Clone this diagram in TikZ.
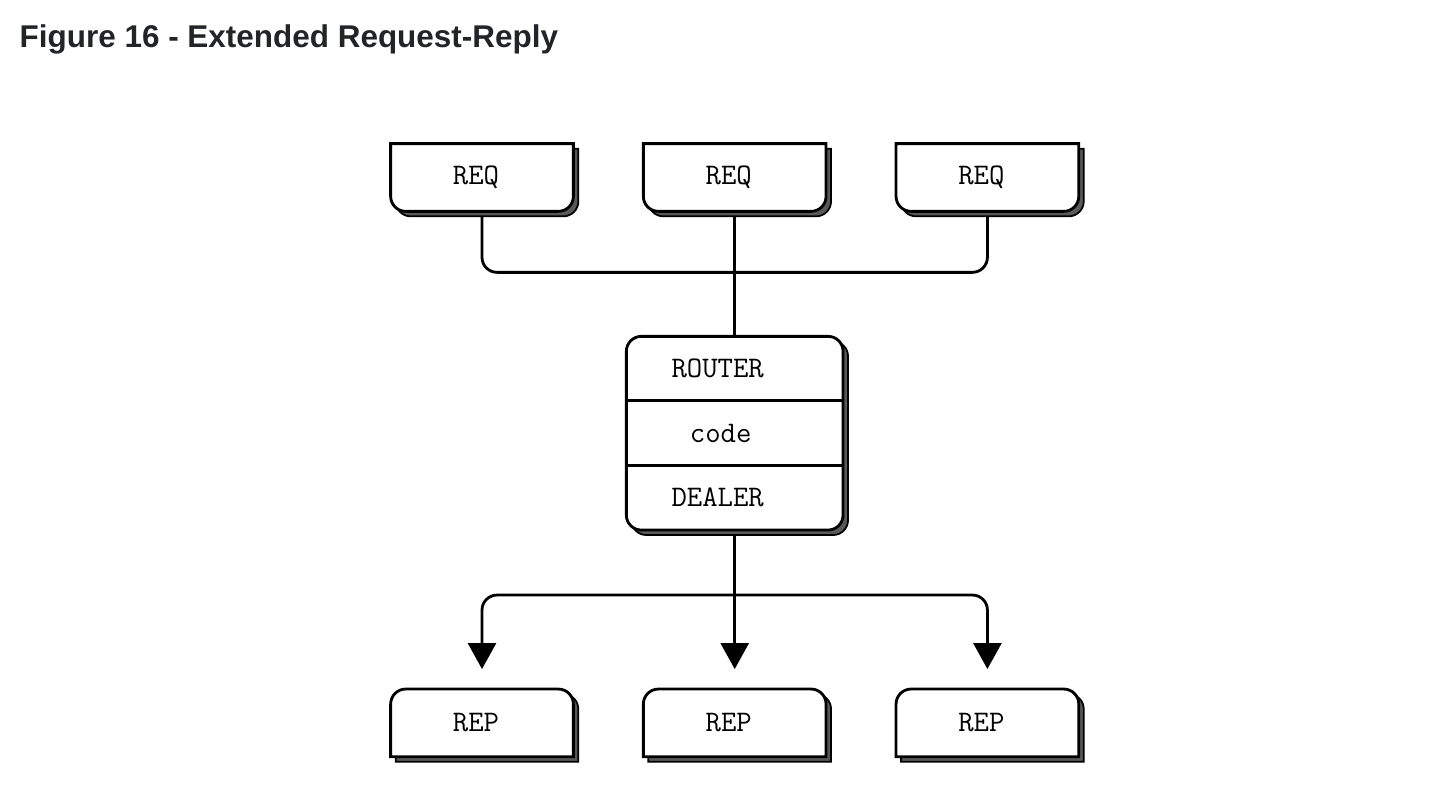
\documentclass[tikz,border=0pt]{standalone}
\usepackage{fontspec}
\setmainfont{Liberation Sans}
\usetikzlibrary{arrows.meta,positioning}
\definecolor{titologrigio}{HTML}{222428}
\tikzset{
node distance=1.4cm,
casella/.style={minimum width=3.64cm,minimum height=1.34cm,inner sep=0pt,font=\fontsize{17}{20}\ttfamily},
bordo/.style={draw=black,fill=white,line width=1.6pt},
ombra/.style={draw=black,fill=black!65,line width=1pt,transform canvas={shift={(0.1,-0.1)}}},
linea/.style={line width=1.6pt,rounded corners=0.3cm},
freccia/.style={linea,-{Triangle[width=0.56cm,length=0.52cm]},shorten >=0.4cm}}
% box with rounded bottom corners
\newcommand{\giu}[1]{(#1.north west) -- (#1.north east) -- ([yshift=0.3cm]#1.south east)
  arc[start angle=0,end angle=-90,radius=0.3cm] -- ([xshift=0.3cm]#1.south west)
  arc[start angle=270,end angle=180,radius=0.3cm] -- cycle}
% box with rounded top corners
\newcommand{\su}[1]{(#1.south west) -- (#1.south east) -- ([yshift=-0.3cm]#1.north east)
  arc[start angle=0,end angle=90,radius=0.3cm] -- ([xshift=0.3cm]#1.north west)
  arc[start angle=90,end angle=180,radius=0.3cm] -- cycle}

\begin{document}
\begin{tikzpicture}
\useasboundingbox (0,0) rectangle (29.04,-16.12);

\node[anchor=base west,text=titologrigio,font=\fontsize{17.9}{20}\bfseries] (titolo) at (0.27,-0.96) {Figure 16 - Extended Request-Reply};

\node[casella] (req1) at (9.64,-3.55) {};
\node[casella] (req2) [right=of req1] {};
\node[casella] (req3) [right=of req2] {};
\node[minimum width=4.32cm,minimum height=3.86cm,inner sep=0pt] (router) [below=2.5cm of req2] {};
\node[casella] (rep2) [below=3.18cm of router] {};
\node[casella] (rep1) [left=of rep2] {};
\node[casella] (rep3) [right=of rep2] {};

\coordinate (unione) at ([yshift=-1.22cm]req2.south);
\coordinate (divide) at ([yshift=-1.3cm]router.south);

\draw[linea] (req1.south) |- (unione) -| (req3.south);
\draw[linea] (req2.south) -- (router.north);
\draw[linea] (router.south) -- (divide);
\draw[freccia] (divide) -| (rep1.north);
\draw[freccia] (divide) -| (rep3.north);
\draw[freccia] (router.south) -- (rep2.north);

\foreach \n in {req1,req2,req3} {
  \filldraw[ombra] \giu{\n};
  \filldraw[bordo] \giu{\n};
  \node[casella] at ([xshift=-0.12cm]\n) {REQ};
}
\foreach \n in {rep1,rep2,rep3} {
  \filldraw[ombra] \su{\n};
  \filldraw[bordo] \su{\n};
  \node[casella] at ([xshift=-0.12cm]\n) {REP};
}

\filldraw[ombra,rounded corners=0.3cm] (router.south west) rectangle (router.north east);
\filldraw[bordo,rounded corners=0.3cm] (router.south west) rectangle (router.north east);
\draw[line width=1.6pt] ([yshift=-1.29cm]router.north west) -- ([yshift=-1.29cm]router.north east);
\draw[line width=1.6pt] ([yshift=1.29cm]router.south west) -- ([yshift=1.29cm]router.south east);
\node[casella] (routertxt) at ([xshift=-0.34cm,yshift=1.29cm]router) {ROUTER};
\node[casella] (codetxt) at ([xshift=-0.28cm]router) {code};
\node[casella] (dealertxt) at ([xshift=-0.34cm,yshift=-1.29cm]router) {DEALER};
\end{tikzpicture}
\end{document}
